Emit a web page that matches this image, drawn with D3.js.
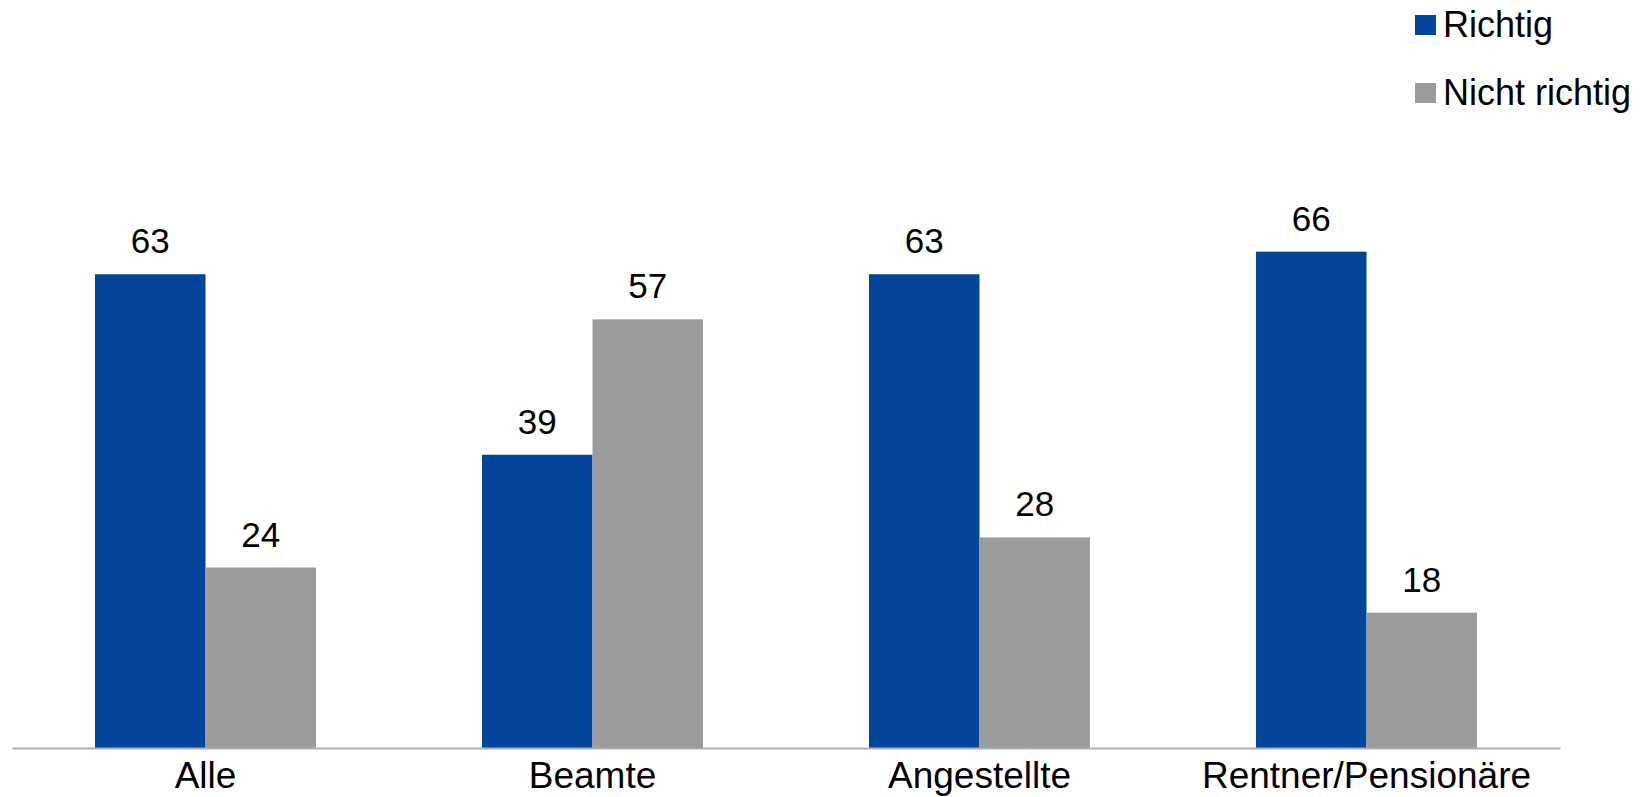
<!DOCTYPE html>
<html>
<head>
<meta charset="utf-8">
<script src="https://cdn.jsdelivr.net/npm/d3@7"></script>
<style>
  body { margin: 0; background: #fff; }
  svg { display: block; font-family: "Liberation Sans", Arial, sans-serif; }
</style>
</head>
<body>
<script>
// chart data
const categories = ["Alle", "Beamte", "Angestellte", "Rentner/Pensionäre"];
const seriesNames = ["Richtig", "Nicht richtig"];
const richtig = [63, 39, 63, 66];
const nichtRichtig = [24, 57, 28, 18];
const seriesColors = ["#03459a", "#9b9b9b"];

const width = 1652, height = 797;
const baseY = 748;

const svg = d3.select("body").append("svg")
  .attr("width", width)
  .attr("height", height);

// scales
const x0 = d3.scaleBand()
  .domain(categories)
  .range([12, 1560])
  .paddingInner(0.429)
  .paddingOuter(0.2145);

const x1 = d3.scaleBand()
  .domain(seriesNames)
  .range([0, x0.bandwidth()]);

const y = d3.scaleLinear()
  .domain([0, 70])
  .range([baseY, baseY - 70 * 7.52]);

const rows = categories.map((c, i) => ({
  cat: c,
  vals: [richtig[i], nichtRichtig[i]]
}));

// bars
const groups = svg.selectAll("g.group")
  .data(rows)
  .enter().append("g")
  .attr("class", "group")
  .attr("transform", d => "translate(" + x0(d.cat) + ",0)");

groups.selectAll("rect")
  .data(d => d.vals.map((v, j) => ({ name: seriesNames[j], v: v, j: j })))
  .enter().append("rect")
  .attr("x", d => x1(d.name))
  .attr("y", d => y(d.v))
  .attr("width", x1.bandwidth())
  .attr("height", d => y(0) - y(d.v))
  .attr("fill", d => seriesColors[d.j]);

// value labels
groups.selectAll("text.val")
  .data(d => d.vals.map((v, j) => ({ name: seriesNames[j], v: v })))
  .enter().append("text")
  .attr("class", "val")
  .attr("x", d => x1(d.name) + x1.bandwidth() / 2)
  .attr("y", d => y(d.v) - 21)
  .attr("text-anchor", "middle")
  .attr("font-size", "35px")
  .attr("fill", "#000")
  .text(d => d.v);

// x axis
const xAxis = svg.append("g")
  .attr("transform", "translate(0," + baseY + ")")
  .call(d3.axisBottom(x0).tickSize(0).tickSizeOuter(0));

xAxis.select(".domain")
  .attr("stroke", "#b0b0b0")
  .attr("stroke-width", 2);

xAxis.selectAll("text")
  .attr("y", 40)
  .attr("dy", 0)
  .attr("font-size", "37px")
  .attr("font-family", "Liberation Sans, Arial, sans-serif")
  .attr("fill", "#000");

// legend
const legend = svg.append("g")
  .attr("transform", "translate(1415,15)");

const items = legend.selectAll("g")
  .data(seriesNames)
  .enter().append("g")
  .attr("transform", (d, i) => "translate(0," + (i * 68) + ")");

items.append("rect")
  .attr("width", 21)
  .attr("height", 20)
  .attr("fill", (d, i) => seriesColors[i]);

items.append("text")
  .attr("x", 28)
  .attr("y", 22)
  .attr("font-size", "36px")
  .attr("fill", "#000")
  .text(d => d);
</script>
</body>
</html>
